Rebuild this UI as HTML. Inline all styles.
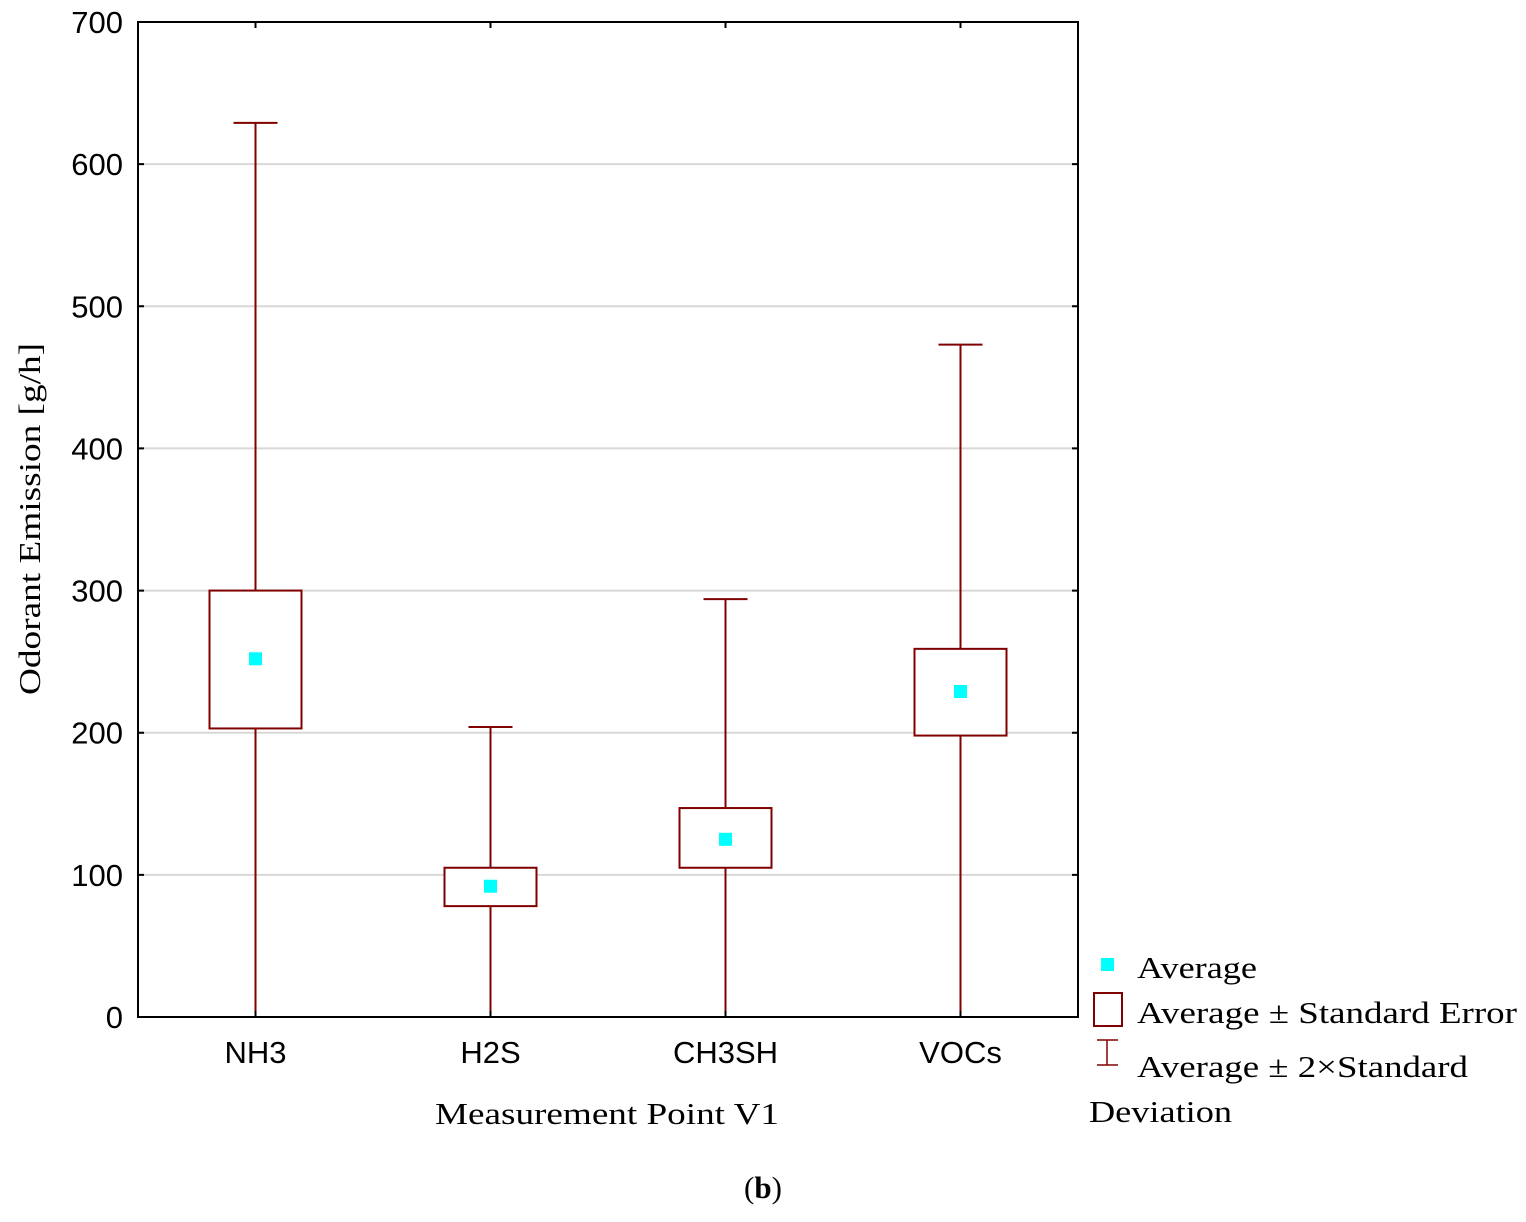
<!DOCTYPE html>
<html><head><meta charset="utf-8"><style>
body{margin:0;background:#fff}
svg text{font-family:"Liberation Sans",sans-serif}
svg text.serif{font-family:"Liberation Serif",serif}
</style></head><body>
<svg width="1526" height="1217" viewBox="0 0 1526 1217" xmlns="http://www.w3.org/2000/svg">
<g id="grid"></g>
<g id="marks"></g>
<rect x="138" y="22" width="940" height="995" fill="none" stroke="#000" stroke-width="2"/>
<g id="axes"></g>
<text class="serif" x="435" y="1124" font-size="31" textLength="344" lengthAdjust="spacingAndGlyphs">Measurement Point V1</text>
<text class="serif" transform="translate(40,695) rotate(-90)" font-size="31" textLength="352" lengthAdjust="spacingAndGlyphs">Odorant Emission [g/h]</text>
<g>
<rect x="1101" y="958" width="13" height="13" fill="#00ffff"/>
<text class="serif" x="1137" y="978" font-size="31" textLength="120" lengthAdjust="spacingAndGlyphs">Average</text>
<rect x="1094" y="993" width="28" height="33" fill="none" stroke="#800000" stroke-width="2"/>
<text class="serif" x="1137" y="1023" font-size="31" textLength="380" lengthAdjust="spacingAndGlyphs">Average ± Standard Error</text>
<path d="M1097 1040H1118M1107 1040V1065M1097 1065H1118" stroke="#800000" stroke-width="1.5" fill="none"/>
<text class="serif" x="1137" y="1077" font-size="31" textLength="331" lengthAdjust="spacingAndGlyphs">Average ± 2×Standard</text>
<text class="serif" x="1089" y="1122" font-size="31" textLength="143" lengthAdjust="spacingAndGlyphs">Deviation</text>
</g>
<text class="serif" x="763" y="1198" font-size="31" text-anchor="middle">(<tspan font-weight="bold">b</tspan>)</text>
</svg>
<script>
const categories=["NH3","H2S","CH3SH","VOCs"];
const means=[252,92,125,229];
const seLow=[203,78,105,198];
const seHigh=[300,105,147,259];
const sdLow=[0,0,0,0];
const sdHigh=[629,204,294,473];
const yTicks=[0,100,200,300,400,500,600,700];
const NS="http://www.w3.org/2000/svg";
const X0=138,X1=1078,Y0=1017,Y1=22;
const y=v=>Y0-(v/700)*(Y0-Y1);
const bw=(X1-X0)/categories.length;
const x=i=>X0+bw*(i+0.5);
function mk(t,a,p){const e=document.createElementNS(NS,t);for(const k in a)e.setAttribute(k,a[k]);p.appendChild(e);return e;}
const grid=document.getElementById('grid'),axes=document.getElementById('axes'),marks=document.getElementById('marks');
yTicks.forEach(v=>{
 if(v>0&&v<700){const g=mk('line',{x1:X0,x2:X1,y1:y(v),y2:y(v),stroke:'#d8d8d8','stroke-width':2},grid);
 
 }
 const t1=mk('path',{d:`M${X0} ${y(v)}h6M${X1} ${y(v)}h-6`,stroke:'#000','stroke-width':2},axes);
 
 
 const l=mk('text',{x:123,y:y(v)+11,'font-size':31,'text-anchor':'end'},axes);l.textContent=v;
 
 
});
categories.forEach((c,i)=>{
 const cx=x(i);
 const t=mk('path',{d:`M${cx} ${Y0}v-6M${cx} ${Y1}v6`,stroke:'#000','stroke-width':2},axes);
 
 
 const l=mk('text',{x:cx,y:1063,'font-size':31,'text-anchor':'middle'},axes);l.textContent=c;
 
 
 const w=mk('path',{d:`M${cx} ${y(sdHigh[i])}V${y(sdLow[i])}M${cx-22} ${y(sdHigh[i])}h44`+(sdLow[i]>0?`M${cx-22} ${y(sdLow[i])}h44`:''),stroke:'#800000','stroke-width':2,fill:'none'},marks);
 
 
 const b=mk('rect',{x:cx-46,y:y(seHigh[i]),width:92,height:y(seLow[i])-y(seHigh[i]),fill:'#fff',stroke:'#800000','stroke-width':2},marks);
 
 
 const m=mk('rect',{x:cx-6.5,y:y(means[i])-6.5,width:13,height:13,fill:'#00ffff'},marks);
 
 
});
</script>
</body></html>
